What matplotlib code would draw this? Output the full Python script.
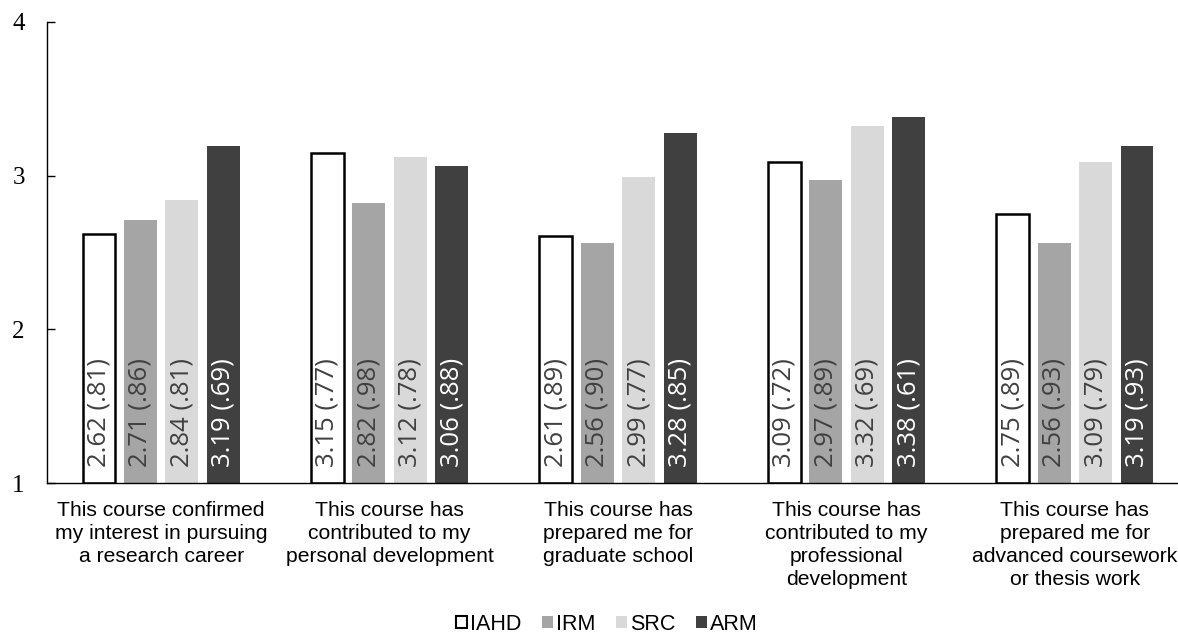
import numpy as np
import matplotlib.pyplot as plt
from matplotlib.patches import Patch

categories = [
    "This course confirmed\nmy interest in pursuing\na research career",
    "This course has\ncontributed to my\npersonal development",
    "This course has\nprepared me for\ngraduate school",
    "This course has\ncontributed to my\nprofessional\ndevelopment",
    "This course has\nprepared me for\nadvanced coursework\nor thesis work",
]
groups = ["IAHD", "IRM", "SRC", "ARM"]

means = {
    "IAHD": [2.62, 3.15, 2.61, 3.09, 2.75],
    "IRM":  [2.71, 2.82, 2.56, 2.97, 2.56],
    "SRC":  [2.84, 3.12, 2.99, 3.32, 3.09],
    "ARM":  [3.19, 3.06, 3.28, 3.38, 3.19],
}
sds = {
    "IAHD": [".81", ".77", ".89", ".72", ".89"],
    "IRM":  [".86", ".98", ".90", ".89", ".93"],
    "SRC":  [".81", ".78", ".77", ".69", ".79"],
    "ARM":  [".69", ".88", ".85", ".61", ".93"],
}

face = {"IAHD": "white", "IRM": "#a5a5a5", "SRC": "#d9d9d9", "ARM": "#404040"}
edge = {"IAHD": "black", "IRM": "none", "SRC": "none", "ARM": "none"}
txt = {"IAHD": "#404040", "IRM": "#404040", "SRC": "#404040", "ARM": "white"}

fig = plt.figure(figsize=(11.78, 6.38), dpi=100)
ax = fig.add_axes([47 / 1178, 1 - 483 / 638, 1142 / 1178, 461 / 638])

x = np.arange(len(categories))
width = 0.144
step = 0.1816
base = 1

for i, g in enumerate(groups):
    pos = x + (i - 1.5) * step
    vals = np.array(means[g])
    ax.bar(pos, vals - base, width, bottom=base, color=face[g],
           edgecolor=edge[g], linewidth=1.8 if g == "IAHD" else 0)
    for xp, v, s in zip(pos, vals, sds[g]):
        ax.text(xp, base + 0.105, f"{v:.2f} ({s})", rotation=90,
                ha="center", va="bottom", fontsize=18.5, color=txt[g],
                family="Open Sans")

ax.set_ylim(1, 4)
ax.set_xlim(-0.5, 4.5)
ax.set_yticks([1, 2, 3, 4])
ax.set_yticklabels(["1", "2", "3", "4"], family="Liberation Serif", fontsize=18)
ax.tick_params(axis="y", direction="in", length=6, width=1, pad=16)
ax.set_xticks(x)
ax.set_xticklabels(categories, family="Liberation Sans", fontsize=15.2,
                   linespacing=1.27)
ax.tick_params(axis="x", length=0, pad=13)
for sp in ["top", "right"]:
    ax.spines[sp].set_visible(False)
ax.spines["left"].set_linewidth(1)
ax.spines["bottom"].set_linewidth(1)

handles = [Patch(facecolor=face[g], edgecolor="black" if g == "IAHD" else face[g],
                 linewidth=1.5 if g == "IAHD" else 0) for g in groups]
fig.legend(handles, groups, loc="center", bbox_to_anchor=(607 / 1178, 1 - 624 / 638),
           ncol=4, frameon=False, handlelength=0.5, handleheight=0.5,
           handletextpad=0.15, columnspacing=0.95,
           prop={"family": "Liberation Sans", "size": 15.5})

fig.savefig("out.png", dpi=100)
